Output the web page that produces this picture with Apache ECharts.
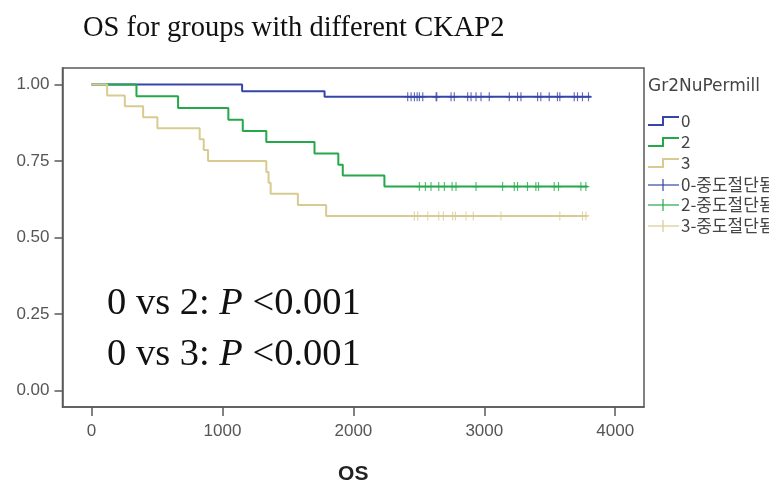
<!DOCTYPE html>
<html>
<head>
<meta charset="utf-8">
<script src="https://cdn.jsdelivr.net/npm/echarts@6/dist/echarts.min.js"></script>
<style>
  html, body { margin: 0; padding: 0; background: #fff; }
  #chart { width: 769px; height: 490px; }
</style>
</head>
<body>
<div id="chart"></div>
<script>
// Axis ticks
const timeTicks = [0, 1000, 2000, 3000, 4000];
const survTicks = [0, 0.25, 0.5, 0.75, 1];

// Kaplan-Meier steps per CKAP2 group: [time, survival after the event]
const group0Steps = [[0, 1], [1150, 0.978], [1780, 0.960]];
const group2Steps = [[0, 1], [343, 0.962], [661, 0.923], [1045, 0.885], [1155, 0.848],
  [1335, 0.812], [1703, 0.775], [1885, 0.738], [1919, 0.703], [2237, 0.667]];
const group3Steps = [[0, 1], [119, 0.964], [254, 0.929], [394, 0.893], [503, 0.857],
  [826, 0.821], [857, 0.786], [890, 0.750], [1335, 0.714], [1352, 0.679], [1368, 0.643],
  [1576, 0.607], [1792, 0.571]];

// Last follow-up time per group
const group0End = 3814;
const group2End = 3790;
const group3End = 3790;

// Censored follow-up times
const group0Censored = [2415, 2441, 2466, 2487, 2504, 2530, 2632, 2637, 2746, 2771, 2873, 2899,
  2937, 2975, 3038, 3191, 3254, 3280, 3407, 3432, 3496, 3559, 3577, 3687, 3712, 3750, 3796];
const group2Censored = [2504, 2550, 2593, 2652, 2695, 2754, 2784, 2937, 3140, 3229, 3254, 3330,
  3394, 3414, 3534, 3567, 3738, 3776];
const group3Censored = [2466, 2491, 2568, 2652, 2687, 2759, 2779, 2860, 2916, 3127, 3577, 3750, 3776];

const groupNames = ['0', '2', '3'];
const censorNames = ['0-중도절단됨', '2-중도절단됨', '3-중도절단됨'];
const colors = ['#3646a6', '#25a84a', '#d8cb91'];

function stepLine(steps, end) {
  return steps.concat([[end, steps[steps.length - 1][1]]]);
}
function survivalAt(steps, t) {
  let s = 1;
  for (const [time, val] of steps) { if (time <= t) s = val; }
  return s;
}
function censorPoints(steps, times) {
  return times.map(t => [t, survivalAt(steps, t)]);
}

// Plus-shaped censor mark
const plusIcon = 'path://M4.2,0h1.6v10h-1.6zM0,4.3h10v1.4h-10z';

const groups = [
  { steps: group0Steps, end: group0End, cens: group0Censored },
  { steps: group2Steps, end: group2End, cens: group2Censored },
  { steps: group3Steps, end: group3End, cens: group3Censored }
];

const series = [];
groups.forEach((g, i) => {
  series.push({
    name: groupNames[i], type: 'line', step: 'end', showSymbol: false,
    data: stepLine(g.steps, g.end), z: 2 + i,
    lineStyle: { color: colors[i], width: 2 }, animation: false
  });
});
groups.forEach((g, i) => {
  series.push({
    name: censorNames[i], type: 'scatter', symbol: plusIcon, symbolSize: [7, 9],
    data: censorPoints(g.steps, g.cens), z: 6,
    itemStyle: { color: colors[i] }, animation: false
  });
});

// Legend drawn at the right of the plot frame
const legendX = 648;
const legendRows = [121, 142, 163, 185, 205, 226];
const legendGraphics = [{
  type: 'text', left: legendX, top: 78,
  style: { text: 'Gr2NuPermill', font: '17px "DejaVu Sans"', fill: '#444' }
}];
legendRows.forEach((y, k) => {
  const i = k % 3;
  if (k < 3) {
    legendGraphics.push({
      type: 'polyline',
      shape: { points: [[legendX, y + 4], [legendX + 15, y + 4], [legendX + 15, y - 4], [legendX + 31, y - 4]] },
      style: { stroke: colors[i], lineWidth: 2, fill: null }
    });
  } else {
    legendGraphics.push({
      type: 'line', shape: { x1: legendX, y1: y, x2: legendX + 31, y2: y },
      style: { stroke: colors[i], lineWidth: 1.2 }
    });
    legendGraphics.push({
      type: 'line', shape: { x1: legendX + 15, y1: y - 6, x2: legendX + 15, y2: y + 6 },
      style: { stroke: colors[i], lineWidth: 1.2 }
    });
  }
  legendGraphics.push({
    type: 'text', x: legendX + 33, y: y,
    style: { text: k < 3 ? groupNames[i] : censorNames[i], font: '17px "Noto Sans CJK KR"',
      fill: '#444', verticalAlign: 'middle' }
  });
});

const chart = echarts.init(document.getElementById('chart'), null, { renderer: 'canvas' });
chart.setOption({
  backgroundColor: '#fff',
  animation: false,
  title: {
    text: 'OS for groups with different CKAP2', left: 78, top: 9,
    textStyle: { fontFamily: 'Liberation Serif', fontSize: 28.5, fontWeight: 'normal', color: '#111' }
  },
  grid: { left: 62.5, right: 125, top: 68, bottom: 77, show: true, borderColor: '#5a5a5a', borderWidth: 1.5 },
  xAxis: {
    type: 'value', min: -222, max: 4220,
    name: 'OS', nameLocation: 'middle', nameGap: 57,
    nameTextStyle: { fontFamily: 'Liberation Sans', fontSize: 21, fontWeight: 'bold', color: '#222' },
    axisLine: { show: true, onZero: false, lineStyle: { color: '#5a5a5a', width: 1.5 } },
    axisTick: { show: true, length: 9, customValues: timeTicks, lineStyle: { color: '#5a5a5a', width: 1.5 } },
    axisLabel: { customValues: timeTicks, margin: 16, fontFamily: 'Liberation Sans', fontSize: 17, color: '#555',
      formatter: v => String(v) },
    splitLine: { show: false }
  },
  yAxis: {
    type: 'value', min: -0.053, max: 1.054,
    axisLine: { show: true, onZero: false, lineStyle: { color: '#5a5a5a', width: 1.5 } },
    axisTick: { show: true, length: 8, customValues: survTicks, lineStyle: { color: '#5a5a5a', width: 1.5 } },
    axisLabel: { customValues: survTicks, margin: 13, fontFamily: 'Liberation Sans', fontSize: 17, color: '#555',
      formatter: v => v.toFixed(2) },
    splitLine: { show: false }
  },
  graphic: legendGraphics.concat([
    {
      type: 'text', left: 107, top: 278,
      style: {
        text: '0 vs 2: {i|P} <0.001\n0 vs 3: {i|P} <0.001',
        font: '38.5px "Liberation Serif"', fill: '#111', lineHeight: 51,
        rich: { i: { fontStyle: 'italic', fontFamily: 'Liberation Serif', fontSize: 38.5, fill: '#111' } }
      }
    }
  ]),
  series: series
});
</script>
</body>
</html>
